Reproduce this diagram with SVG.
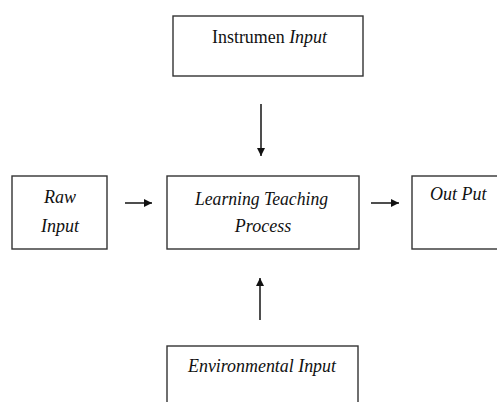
<svg xmlns="http://www.w3.org/2000/svg" width="497" height="402" viewBox="0 0 497 402">
<defs>
<style>
.box{fill:#fff;stroke:#333;stroke-width:1.4}
.t{font-family:"Liberation Serif","DejaVu Serif",serif;font-size:18px;fill:#111;font-style:italic}
.n{font-style:normal}
.c{stroke:#222;stroke-width:1.6;fill:none}
</style>
<marker id="ah" viewBox="0 0 10 10" refX="10" refY="5" markerWidth="5" markerHeight="5" orient="auto" markerUnits="strokeWidth">
<path d="M0,0 L10,5 L0,10 z" fill="#111"/>
</marker>
</defs>
<rect width="497" height="402" fill="#fff"/>
<g id="instrumen">
<rect class="box" x="173" y="16" width="190" height="60"/>
<text class="t" x="212" y="43" textLength="115" lengthAdjust="spacingAndGlyphs"><tspan class="n">Instrumen</tspan> Input</text>
</g>
<g id="raw">
<rect class="box" x="12" y="176" width="95" height="73"/>
<text class="t" x="60" y="203" text-anchor="middle">Raw</text>
<text class="t" x="60" y="232" text-anchor="middle">Input</text>
</g>
<g id="process">
<rect class="box" x="167" y="176" width="192" height="73"/>
<text class="t" x="195" y="205" textLength="133" lengthAdjust="spacingAndGlyphs">Learning Teaching</text>
<text class="t" x="263" y="232" text-anchor="middle">Process</text>
</g>
<g id="output">
<rect class="box" x="412" y="176" width="100" height="73"/>
<text class="t" x="430" y="200">Out Put</text>
</g>
<g id="environmental">
<rect class="box" x="167" y="346" width="191" height="70"/>
<text class="t" x="188" y="372" textLength="148" lengthAdjust="spacingAndGlyphs">Environmental Input</text>
</g>
<g id="connectors">
<line class="c" x1="261" y1="104" x2="261" y2="156" marker-end="url(#ah)"/>
<line class="c" x1="125" y1="203" x2="152" y2="203" marker-end="url(#ah)"/>
<line class="c" x1="371" y1="203" x2="399" y2="203" marker-end="url(#ah)"/>
<line class="c" x1="260" y1="320" x2="260" y2="278" marker-end="url(#ah)"/>
</g>
</svg>
